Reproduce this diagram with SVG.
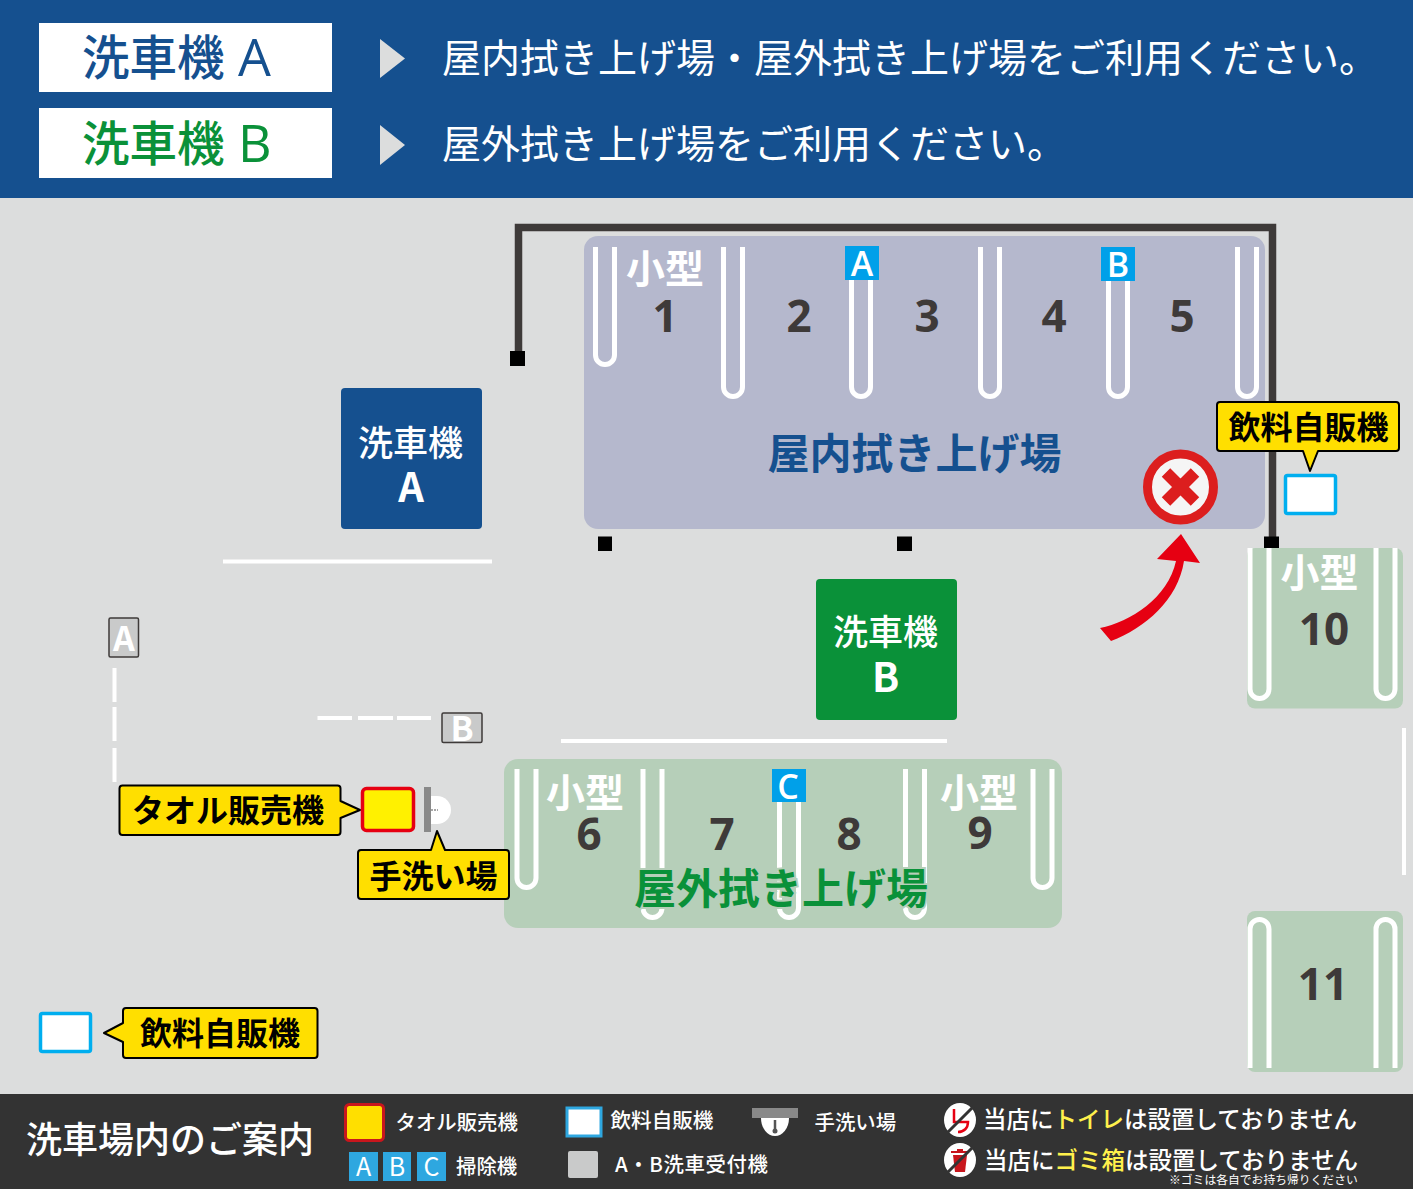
<svg xmlns="http://www.w3.org/2000/svg" width="1413" height="1189" viewBox="0 0 1413 1189">
<style>
text{font-family:"Noto Sans CJK JP","Noto Sans",sans-serif}
.b{font-weight:700}
.m{font-weight:500}
.w{fill:#fff}
.c{text-anchor:middle}
.num{font-family:"Open Sans","Noto Sans",sans-serif;font-weight:700;font-size:44px;fill:#3e3a39;text-anchor:middle}
.small{font-weight:700;font-size:39px;fill:#fff;text-anchor:middle}
.u{fill:none;stroke:#fff;stroke-width:5}
.sq{fill:#000}
.call{fill:#ffdf00;stroke:#000;stroke-width:2;stroke-linejoin:round}
.ctext{font-weight:700;font-size:32px;fill:#000}
.vend{fill:#fff;stroke:#00aeef;stroke-width:3.5}
.tag{fill:#00a0e9}
.tagt{font-family:"Open Sans","Noto Sans",sans-serif;font-weight:600;font-size:34px;fill:#fff;text-anchor:middle}
.wl{stroke:#fff;stroke-width:4;fill:none}
.leg{font-size:20.400px;fill:#fff;font-weight:500}
</style>
<rect width="1413" height="1189" fill="#dcdddd"/>

<g id="header">
<rect width="1413" height="198" fill="#15508f"/>
<rect x="39" y="23" width="293" height="69" fill="#fff"/>
<rect x="39" y="108" width="293" height="70" fill="#fff"/>
<text x="82" y="75" font-size="47.500" class="m" fill="#15508f">洗車機</text>
<text x="238" y="76" font-size="52" font-family="Open Sans" fill="#15508f" style="font-family:'Open Sans'">A</text>
<text x="82" y="161" font-size="47.500" class="m" fill="#0a9139">洗車機</text>
<text x="238" y="162" font-size="52" fill="#0a9139" style="font-family:'Open Sans'">B</text>
<polygon points="380,39 405,58.500 380,78" fill="#dcdddd"/>
<polygon points="380,125 405,145 380,165" fill="#dcdddd"/>
<text x="442" y="72" font-size="39" class="w">屋内拭き上げ場・屋外拭き上げ場をご利用ください。</text>
<text x="442" y="158" font-size="39" class="w">屋外拭き上げ場をご利用ください。</text>
</g>

<g id="indoor-area">
<rect x="584" y="236" width="681" height="293" rx="14" fill="#b5b8cd"/>
<path class="u" d="M595.500 247V355a9.500 9.500 0 0 0 19 0V247"/>
<path class="u" d="M723.500 247V387a9.500 9.500 0 0 0 19 0V247"/>
<path class="u" d="M851.500 247V387a9.500 9.500 0 0 0 19 0V247"/>
<path class="u" d="M980.500 247V387a9.500 9.500 0 0 0 19 0V247"/>
<path class="u" d="M1108.500 247V387a9.500 9.500 0 0 0 19 0V247"/>
<path class="u" d="M1237.500 247V387a9.500 9.500 0 0 0 19 0V247"/>
<text x="665" y="283" class="small">小型</text>
<text x="665" y="332" class="num">1</text>
<text x="799" y="332" class="num">2</text>
<text x="927" y="332" class="num">3</text>
<text x="1054" y="332" class="num">4</text>
<text x="1182" y="332" class="num">5</text>
<rect class="tag" x="845" y="246" width="34" height="34"/>
<text x="862" y="276" class="tagt">A</text>
<rect class="tag" x="1101" y="247" width="34" height="34"/>
<text x="1118" y="276.500" class="tagt">B</text>
<text x="914.500" y="469" font-size="42" class="b c" fill="#15508f">屋内拭き上げ場</text>
</g>

<g id="walls">
<path d="M518.500 358V227.500H1272.500V543" fill="none" stroke="#3e3a39" stroke-width="7.500"/>
<rect class="sq" x="510" y="351" width="15" height="15"/>
<rect class="sq" x="598" y="536.500" width="14" height="14.500"/>
<rect class="sq" x="897" y="536.500" width="15" height="14.500"/>
<rect class="sq" x="1264" y="536.500" width="15" height="14.500"/>
</g>

<g id="no-entry">
<circle cx="1180.500" cy="487" r="33" fill="#f5f5f5" stroke="#dc1e1e" stroke-width="9"/>
<path d="M1166 472.500L1195 501.500M1195 472.500L1166 501.500" stroke="#dc1e1e" stroke-width="12" fill="none"/>
</g>

<g id="connectors">
<path d="M1100 628C1130 622 1168 598 1176 561L1157 559L1181 534L1200 563L1184 561C1178 600 1145 628 1111 641Z" fill="#e60012"/>
</g>

<g id="washer-a">
<rect x="341" y="388" width="141" height="141" rx="4" fill="#15508f"/>
<text x="410.500" y="455.500" font-size="35" class="m w c">洗車機</text>
<text x="411" y="501.500" font-size="40" class="b w c">A</text>
</g>
<g id="washer-b">
<rect x="816" y="579" width="141" height="141" rx="4" fill="#0a9139"/>
<text x="885.500" y="644.500" font-size="35" class="m w c">洗車機</text>
<text x="885.500" y="691.500" font-size="40" class="b w c">B</text>
</g>

<g id="lines">
<path class="wl" d="M223 561.500H492M561 741H947"/>
<path d="M114.500 668V702M114.500 707V741M114.500 748V782M317.500 718H352M358 718H393M397 718H431" stroke="#fff" stroke-width="4" fill="none"/>
<path d="M1404 728V875" stroke="#fff" stroke-width="4"/>
</g>

<g id="gate-a">
<rect x="109" y="618" width="29.500" height="39" rx="1.500" fill="#c9caca" stroke="#3e3a39" stroke-width="1.500"/>
<text x="124" y="651" font-size="34" class="b w c">A</text>
</g>
<g id="gate-b">
<rect x="442" y="713" width="40" height="29.500" rx="1.500" fill="#c9caca" stroke="#3e3a39" stroke-width="1.500"/>
<text x="462" y="741" font-size="34" class="b w c">B</text>
</g>

<g id="outdoor-area">
<rect x="504" y="759" width="558" height="169" rx="14" fill="#b6cfb9"/>
<path class="u" d="M517 769V878a9.500 9.500 0 0 0 19 0V769"/>
<path class="u" d="M643 769V908a9.500 9.500 0 0 0 19 0V769"/>
<path class="u" d="M779.500 769V908a9.500 9.500 0 0 0 19 0V769"/>
<path class="u" d="M905.500 769V908a9.500 9.500 0 0 0 19 0V769"/>
<path class="u" d="M1033 769V878a9.500 9.500 0 0 0 19 0V769"/>
<text x="585" y="807" class="small">小型</text>
<text x="979" y="807" class="small">小型</text>
<text x="589" y="850" class="num">6</text>
<text x="722" y="850" class="num">7</text>
<text x="849" y="850" class="num">8</text>
<text x="980" y="848.500" class="num">9</text>
<rect class="tag" x="772" y="769" width="34" height="33"/>
<text x="788" y="799" class="tagt">C</text>
<text x="781" y="904" font-size="42" class="b c" fill="#0a9139" stroke="#b6cfb9" stroke-width="4" paint-order="stroke">屋外拭き上げ場</text>
</g>

<g id="towel-vendor">
<path class="call" d="M122 785.500H337.500a3 3 0 0 1 3 3V801L360 810L340.500 818V832a3 3 0 0 1 -3 3H122.500a3 3 0 0 1 -3 -3V788.500a3 3 0 0 1 3 -3Z"/>
<text x="132" y="822" class="ctext">タオル販売機</text>
<rect x="362.500" y="788.500" width="51" height="42" rx="4" fill="#fff100" stroke="#e60012" stroke-width="3.500"/>
</g>

<g id="sink">
<path d="M437 796a14 14 0 0 1 0 28Z" fill="#fff"/>
<rect x="431" y="796" width="6" height="28" fill="#fff"/>
<rect x="424" y="787" width="7" height="45" fill="#898989"/>
<path d="M431 810H438" stroke="#898989" stroke-width="1.500" stroke-dasharray="2 1"/>
<path class="call" d="M361 850H431L437 831L445 850H506a3 3 0 0 1 3 3V896a3 3 0 0 1 -3 3H361a3 3 0 0 1 -3 -3V853a3 3 0 0 1 3 -3Z"/>
<text x="369.500" y="888" class="ctext">手洗い場</text>
</g>

<g id="stall-10">
<rect x="1247" y="548" width="156" height="160.500" rx="8" fill="#b6cfb9"/>
<path class="u" d="M1250 548V689a9.500 9.500 0 0 0 19 0V548"/>
<path class="u" d="M1376 548V689a9.500 9.500 0 0 0 19 0V548"/>
<text x="1319.500" y="587" class="small">小型</text>
<text x="1324" y="645" class="num">10</text>
</g>
<g id="stall-11">
<rect x="1247" y="911" width="156" height="161" rx="8" fill="#b6cfb9"/>
<path class="u" d="M1250 1068V929a9.500 9.500 0 0 1 19 0V1068"/>
<path class="u" d="M1376 1068V929a9.500 9.500 0 0 1 19 0V1068"/>
<text x="1323" y="1000" class="num">11</text>
</g>

<g id="drink-vendor-right">
<path class="call" d="M1220 402H1396a3 3 0 0 1 3 3V448a3 3 0 0 1 -3 3H1318L1310 471L1303 451H1220a3 3 0 0 1 -3 -3V405a3 3 0 0 1 3 -3Z"/>
<text x="1228.500" y="439" class="ctext">飲料自販機</text>
<rect class="vend" x="1285.500" y="475.500" width="50" height="38" rx="2"/>
</g>
<g id="drink-vendor-left">
<rect class="vend" x="40.500" y="1013.500" width="50" height="38" rx="2"/>
<path class="call" d="M126 1008H314.500a3 3 0 0 1 3 3V1055a3 3 0 0 1 -3 3H126a3 3 0 0 1 -3 -3V1042L104 1033L123 1023V1011a3 3 0 0 1 3 -3Z"/>
<text x="140" y="1045" class="ctext">飲料自販機</text>
</g>

<g id="legend">
<rect y="1094" width="1413" height="95" fill="#333"/>
<text x="26" y="1153" font-size="36" class="m w">洗車場内のご案内</text>
<rect x="345.500" y="1104.500" width="38" height="36" rx="4" fill="#ffdf00" stroke="#c8161d" stroke-width="3"/>
<text x="395.500" y="1130" class="leg">タオル販売機</text>
<rect x="567" y="1108" width="34" height="28" fill="#fff" stroke="#2ea7e0" stroke-width="3"/>
<text x="610.500" y="1128" class="leg" style="font-size:20.600px">飲料自販機</text>
<rect x="349" y="1152" width="29" height="29" fill="#2ea7e0"/>
<rect x="383" y="1152" width="28" height="29" fill="#2ea7e0"/>
<rect x="417" y="1152" width="29" height="29" fill="#2ea7e0"/>
<text x="363.500" y="1176" font-size="25" class="w c">A</text>
<text x="397" y="1176" font-size="25" class="w c">B</text>
<text x="431.500" y="1176" font-size="25" class="w c">C</text>
<text x="456" y="1174" class="leg">掃除機</text>
<rect x="568" y="1151" width="30" height="27" rx="2" fill="#c9caca"/>
<text x="615" y="1172" class="leg" letter-spacing=".6">A・B洗車受付機</text>
<path d="M761 1118a14 18 0 0 0 28 0Z" fill="#fff"/>
<rect x="752" y="1108" width="46" height="10" fill="#898989"/>
<path d="M775 1120V1129" stroke="#555" stroke-width="2.500"/>
<circle cx="775" cy="1131" r="2.500" fill="#555"/>
<text x="814.500" y="1130" class="leg">手洗い場</text>
<g id="no-toilet">
<ellipse cx="960" cy="1120" rx="16" ry="17" fill="#fff"/>
<path d="M954 1109V1122H968C968 1128 964 1132 958 1132" stroke="#e60012" stroke-width="2.500" fill="none"/>
<path d="M947 1133L974 1106" stroke="#333" stroke-width="3"/>
</g>
<g id="no-trash">
<ellipse cx="960" cy="1160" rx="16" ry="17" fill="#fff"/>
<path d="M953 1155H967L965 1172H955Z" fill="#c8161d"/>
<path d="M951 1152H969M957 1150H963" stroke="#c8161d" stroke-width="2"/>
<path d="M947 1173L974 1146" stroke="#333" stroke-width="3"/>
</g>
<text x="983" y="1128" font-size="23.500" class="m w">当店に<tspan fill="#fff04c">トイレ</tspan>は設置しておりません</text>
<text x="984" y="1169" font-size="23.500" class="m w">当店に<tspan fill="#fff04c">ゴミ箱</tspan>は設置しておりません</text>
<text x="1169" y="1184" font-size="11.800" class="w">※ゴミは各自でお持ち帰りください</text>
</g>
</svg>
